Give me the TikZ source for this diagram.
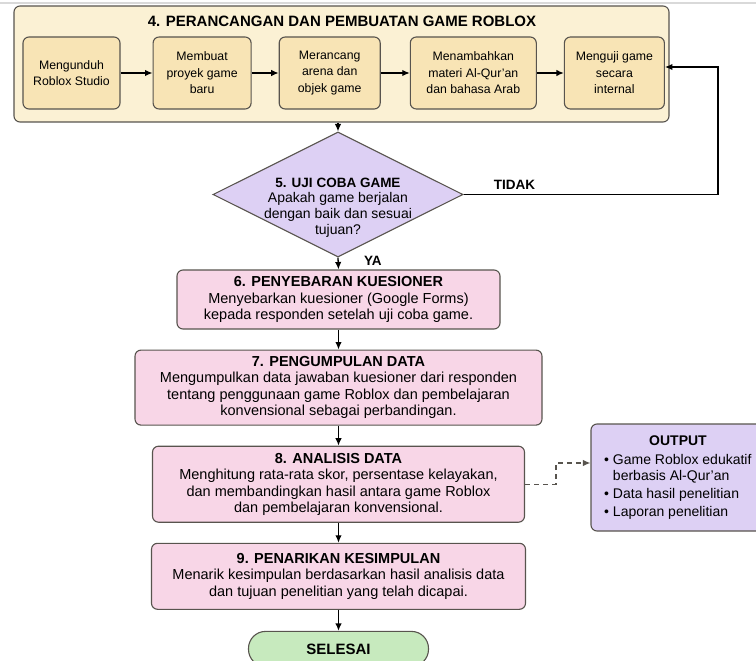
\documentclass[tikz,border=0pt]{standalone}
\usepackage{fontspec}
\setmainfont{Liberation Sans}
\usetikzlibrary{arrows.meta,positioning,shapes.geometric}
\definecolor{cream}{HTML}{FBF1D4}
\definecolor{sand}{HTML}{F8E4B5}
\definecolor{lilac}{HTML}{DDD0F4}
\definecolor{rose}{HTML}{F8D6E7}
\definecolor{mint}{HTML}{C7EABE}
\definecolor{edge}{HTML}{58544E}
\newcommand{\boxhead}[1]{{\bfseries\fontsize{14.5}{17}\selectfont #1}}

\begin{document}
\begin{tikzpicture}[x=1pt,y=-1pt,node distance=20pt and 27pt,box/.style={draw=edge,line width=1.1pt,rounded corners=6pt,align=center,inner sep=0pt},inbox/.style={box,fill=sand,minimum height=72pt,font=\fontsize{12.3}{16.5}\selectfont},stepbox/.style={box,fill=rose,font=\fontsize{14.5}{16.5}\selectfont},lbl/.style={font=\bfseries\fontsize{13.5}{16}\selectfont},arr/.style={-{Latex[length=7.5pt,width=6.5pt]},line width=1.3pt}]
\useasboundingbox (0,0) rectangle (756,661);
\draw[black!15,line width=2pt] (0,3)--(756,3);
\node[box,fill=cream,minimum width=655pt,minimum height=116pt] (design) at (341.5,64) {};
\node[font=\bfseries\fontsize{15}{18}\selectfont] (designhead) at (342,21) {4. PERANCANGAN DAN PEMBUATAN GAME ROBLOX};
\node[inbox,minimum width=97pt] (unduh) at (71.5,73) {Mengunduh\\Roblox Studio};
\node[inbox,minimum width=98pt,right=32pt of unduh] (proyek) {Membuat\\proyek game\\baru};
\node[inbox,minimum width=101pt,right=of proyek] (arena) {Merancang\\arena dan\\objek game};
\node[inbox,minimum width=126pt,right=29pt of arena] (materi) {Menambahkan\\materi Al-Qur'an\\dan bahasa Arab};
\node[inbox,minimum width=100pt,right=of materi] (uji) {Menguji game\\secara\\internal};
\draw[arr] (unduh)--(proyek);\draw[arr] (proyek)--(arena);\draw[arr] (arena)--(materi);\draw[arr] (materi)--(uji);
\node[draw=edge,line width=1.1pt,fill=lilac,diamond,aspect=2,minimum width=250pt,minimum height=125pt,inner sep=0pt] (cek) at (338,194.5) {};
\node[align=center,font=\fontsize{14}{15.8}\selectfont] (cektext) at ([yshift=-13pt]cek.center) {{\bfseries\fontsize{13.5}{16}\selectfont 5. UJI COBA GAME}\\Apakah game berjalan\\dengan baik dan sesuai\\tujuan?};
\draw[arr] (design.south -| cek.north)--(cek.north);
\coordinate (turn) at (718,67);
\draw[arr] (cek.east)--node[lbl,above=1pt,pos=0.2] (tidak) {TIDAK} (cek.east -| turn)--(turn)--(uji.east |- turn);
\node[stepbox,minimum width=323pt,minimum height=59pt] (sebar) at (338.5,299.5) {\boxhead{6. PENYEBARAN KUESIONER}\\Menyebarkan kuesioner (Google Forms)\\kepada responden setelah uji coba game.};
\node[stepbox,minimum width=407pt,minimum height=75pt,below=of sebar] (kumpul) {\boxhead{7. PENGUMPULAN DATA}\\Mengumpulkan data jawaban kuesioner dari responden\\tentang penggunaan game Roblox dan pembelajaran\\konvensional sebagai perbandingan.};
\node[stepbox,minimum width=372pt,minimum height=76pt,below=of kumpul] (analisis) {\boxhead{8. ANALISIS DATA}\\Menghitung rata-rata skor, persentase kelayakan,\\dan membandingkan hasil antara game Roblox\\dan pembelajaran konvensional.};
\node[stepbox,minimum width=374pt,minimum height=66pt,below=of analisis] (simpul) {\boxhead{9. PENARIKAN KESIMPULAN}\\Menarik kesimpulan berdasarkan hasil analisis data\\dan tujuan penelitian yang telah dicapai.};
\node[box,fill=mint,rounded corners=17pt,minimum width=180pt,minimum height=35pt,below=21pt of simpul,font=\bfseries\fontsize{15}{18}\selectfont] (selesai) {SELESAI};
\draw[arr] (cek.south)--node[lbl,right=22pt,pos=0.25] (ya) {YA} (sebar.north);
\draw[arr] (sebar)--(kumpul);\draw[arr] (kumpul)--(analisis);\draw[arr] (analisis)--(simpul);\draw[arr] (simpul)--(selesai);
\node[box,fill=lilac,minimum width=174pt,minimum height=107pt] (hasil) at (678,477.5) {};
\node[font=\bfseries\fontsize{14}{17}\selectfont] (hasilhead) at (678,441) {OUTPUT};
\node[anchor=north west,align=left,inner sep=0pt,font=\fontsize{14}{16.5}\selectfont] (hasillist) at (604,454) {• Game Roblox edukatif\\\phantom{• }berbasis Al-Qur'an\\[1.5pt]• Data hasil penelitian\\[1.5pt]• Laporan penelitian};
\coordinate (bend) at (556,463);
\draw[arr,dashed,draw=edge,dash pattern=on 5pt off 4pt] (analisis.east)--(analisis.east -| bend)--(bend)--(hasil.west |- bend);
\end{tikzpicture}
\end{document}
